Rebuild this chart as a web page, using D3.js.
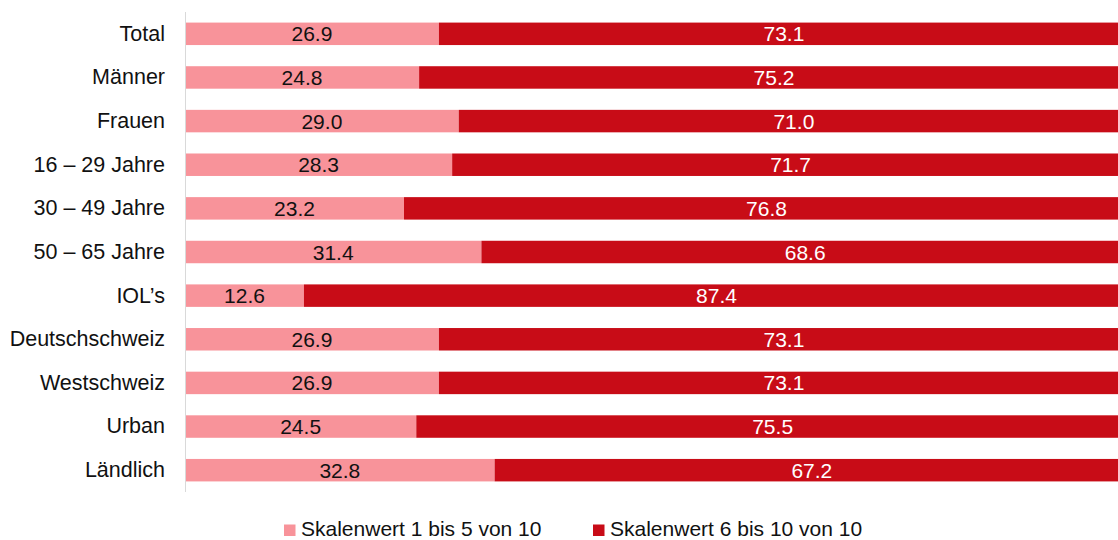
<!DOCTYPE html>
<html>
<head>
<meta charset="utf-8">
<script src="https://cdn.jsdelivr.net/npm/d3@7"></script>
<style>
  body { margin: 0; background: #fff; overflow: hidden; }
  svg { display: block; font-family: "Liberation Sans", Arial, Helvetica, sans-serif; }
</style>
</head>
<body>
<div id="chart"></div>
<script>
var categories = ["Total", "Männer", "Frauen", "16 – 29 Jahre", "30 – 49 Jahre", "50 – 65 Jahre",
                  "IOL’s", "Deutschschweiz", "Westschweiz", "Urban", "Ländlich"];
var low  = [26.9, 24.8, 29.0, 28.3, 23.2, 31.4, 12.6, 26.9, 26.9, 24.5, 32.8];
var high = [73.1, 75.2, 71.0, 71.7, 76.8, 68.6, 87.4, 73.1, 73.1, 75.5, 67.2];
var seriesNames = ["Skalenwert 1 bis 5 von 10", "Skalenwert 6 bis 10 von 10"];
var colors = ["#f8939a", "#c80c17"];

var W = 1118, H = 540;
var margin = {top: 12, bottom: 48, left: 185};
var plotRight = 1129; // bars run a little past the right edge of the picture

var svg = d3.select("#chart").append("svg")
  .attr("width", W).attr("height", H);

var x = d3.scaleLinear().domain([0, 100]).range([margin.left, plotRight]);
var y = d3.scaleBand().domain(categories).range([margin.top, H - margin.bottom]).paddingInner(0.485).paddingOuter(0.2425);

var rows = categories.map(function(c, i){
  return {cat: c, vals: [low[i], high[i]]};
});

var g = svg.append("g");

rows.forEach(function(r){
  var x0 = 0;
  r.vals.forEach(function(v, j){
    g.append("rect")
      .attr("x", x(x0))
      .attr("y", y(r.cat))
      .attr("width", x(x0 + v) - x(x0))
      .attr("height", y.bandwidth())
      .attr("fill", colors[j]);
    g.append("text")
      .attr("x", (x(x0) + x(x0 + v)) / 2)
      .attr("y", y(r.cat) + y.bandwidth() / 2)
      .attr("dy", "0.36em")
      .attr("text-anchor", "middle")
      .attr("font-size", 21)
      .attr("fill", j == 0 ? "#111" : "#fff")
      .text(v.toFixed(1));
    x0 += v;
  });
});

// category axis
var yAxis = svg.append("g")
  .attr("transform", "translate(" + margin.left + ",0)")
  .call(d3.axisLeft(y).tickSize(0).tickPadding(20));
yAxis.select(".domain").attr("stroke", "#d9d9d9").attr("d", "M0.5," + margin.top + "V" + (H - margin.bottom));
yAxis.selectAll("text").attr("font-size", 21.5).attr("fill", "#111").attr("font-family", "inherit");

// legend
var legendX = [284, 593];
var legend = svg.append("g");
seriesNames.forEach(function(n, j){
  legend.append("rect")
    .attr("x", legendX[j]).attr("y", 524.5)
    .attr("width", 11.5).attr("height", 11.5)
    .attr("fill", colors[j]);
  legend.append("text")
    .attr("x", legendX[j] + 17).attr("y", 535.5)
    .attr("font-size", 21)
    .attr("fill", "#111")
    .text(n);
});
</script>
</body>
</html>
